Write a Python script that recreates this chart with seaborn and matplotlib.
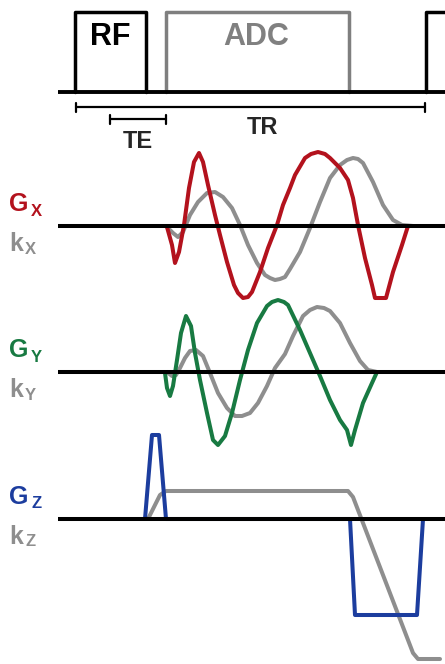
#!/usr/bin/env python3

import numpy as np
import seaborn as sns
import matplotlib.pyplot as plt

# --- timing (horizontal position, px) -------------------------------------
rf_on, rf_off = 75, 146
adc_on, adc_off = 166, 349
next_rf = 426
te_span = (110, 166)
tr_span = (76, 425)

# --- gradient / k-space waveforms: time and amplitude (up = positive) ------
gx_t = [167, 172, 175, 179, 184, 189, 194, 199, 203, 208, 215, 220, 227, 234,
        238, 243, 248, 252, 260, 268, 277, 283, 290, 295, 305, 311, 318, 325,
        330, 340, 348, 353, 358, 365, 372, 375, 386, 393, 402, 408]
gx_amp = [-1, -19, -37, -26, 1, 38, 64, 73, 64, 41, 11, -9, -36, -59,
          -67, -72, -71, -66, -46, -22, 1, 21, 38, 51, 68, 72, 74, 72,
          68, 58, 46, 28, 1, -32, -59, -72, -72, -46, -19, 0]
kx_t = [167, 173, 178, 183, 190, 198, 207, 215, 223, 232, 240, 248, 257, 265,
        270, 275, 280, 285, 290, 300, 310, 320, 330, 340, 347, 353, 358, 363,
        373, 383, 393, 402, 413]
kx_amp = [-1, -7, -11, -6, 11, 24, 33, 34, 29, 18, 1, -19, -37, -49,
          -52, -54, -53, -51, -43, -26, -2, 24, 48, 61, 66, 68, 67, 63,
          44, 21, 6, 1, 0]

gy_t = [165, 167, 170, 173, 177, 181, 186, 191, 195, 200, 207, 213, 218, 225,
        232, 240, 248, 257, 267, 272, 278, 284, 288, 300, 310, 320, 330, 340,
        347, 351, 355, 363, 372, 377]
gy_amp = [-1, -16, -24, -14, 12, 39, 56, 46, 19, -8, -41, -68, -73, -64,
          -41, -8, 22, 49, 66, 70, 72, 70, 67, 42, 19, -4, -28, -48,
          -58, -73, -58, -31, -11, 0]
ky_t = [167, 172, 176, 180, 185, 190, 196, 203, 210, 218, 227, 235, 242, 250,
        258, 267, 275, 285, 293, 303, 310, 317, 324, 330, 340, 350, 360, 368, 377]
ky_amp = [0, -4, -3, 4, 14, 21, 22, 16, -1, -21, -36, -44, -44, -41,
          -31, -14, 4, 18, 36, 56, 62, 65, 64, 61, 49, 29, 11, 2, 0]

gz_t = [145, 152, 159, 166, 350, 355, 417, 423]
gz_amp = [0, 84, 84, 0, 0, -96, -96, 0]
kz_t = [148, 160, 166, 348, 353, 413, 418, 440]
kz_amp = [0, 24, 28, 28, 22, -134, -140, -140]

red, green, blue = '#b3121d', '#187a42', '#1c3d9e'
gray, black = '#8e8e8e', '#000000'

# rows: baseline (px from top) and colours
rows = [
    ('X', 226, red, gx_t, gx_amp, kx_t, kx_amp),
    ('Y', 372, green, gy_t, gy_amp, ky_t, ky_amp),
    ('Z', 519, blue, gz_t, gz_amp, kz_t, kz_amp),
]

sns.set_style('white')
plt.rcParams['font.family'] = ['Liberation Sans', 'DejaVu Sans']

fig = plt.figure(figsize=(4.45, 6.64), dpi=100)
ax = fig.add_axes([0, 0, 1, 1])
ax.set_xlim(0, 445)
ax.set_ylim(664, 0)
ax.axis('off')

line_kw = dict(sort=False, estimator=None, ax=ax,
               solid_joinstyle='round', solid_capstyle='round')

# --- RF / ADC row ---------------------------------------------------------
top_base, top_high = 92, 12
box_lw = 2.5
sns.lineplot(x=[rf_on, rf_on, rf_off, rf_off], y=[top_base, top_high, top_high, top_base],
             color=black, lw=box_lw, **line_kw)
sns.lineplot(x=[adc_on, adc_on, adc_off, adc_off], y=[top_base, top_high, top_high, top_base],
             color='#7f7f7f', lw=box_lw, **line_kw)
sns.lineplot(x=[next_rf, next_rf, 450], y=[top_base, top_high, top_high],
             color=black, lw=box_lw, **line_kw)
ax.plot([58, 445], [top_base, top_base], color=black, lw=2.8, solid_capstyle='butt')
ax.text((rf_on + rf_off) / 2, 37, 'RF', ha='center', va='center',
        fontsize=22, fontweight='bold', color=black)
ax.text(256, 37, 'ADC', ha='center', va='center',
        fontsize=22, fontweight='bold', color='#808080')

# brackets
for (a, b), yb in [(tr_span, 107), (te_span, 119)]:
    ax.plot([a, b], [yb, yb], color=black, lw=1.6)
    for xe in (a, b):
        ax.plot([xe, xe], [yb - 4.5, yb + 4.5], color=black, lw=1.6)
ax.text(262, 127, 'TR', ha='center', va='center', fontsize=17, fontweight='bold')
ax.text(137.5, 141, 'TE', ha='center', va='center', fontsize=17, fontweight='bold')

# --- gradient rows ----------------------------------------------------------
for axis_name, base, col, gt, ga, kt, ka in rows:
    sns.lineplot(x=kt, y=base - np.asarray(ka), color=gray, lw=2.9, **line_kw)
    sns.lineplot(x=gt, y=base - np.asarray(ga), color=col, lw=2.9, **line_kw)
    ax.plot([58, 445], [base, base], color=black, lw=2.9, solid_capstyle='butt')

    ax.text(9, base - 22, 'G', ha='left', va='center', fontsize=18,
            fontweight='bold', color=col)
    ax.text(31, base - 15, axis_name, ha='left', va='center', fontsize=12,
            fontweight='bold', color=col)
    ax.text(9, base + 18, 'k', ha='left', va='center', fontsize=18,
            fontweight='bold', color=gray)
    ax.text(25, base + 23, axis_name, ha='left', va='center', fontsize=12,
            fontweight='bold', color=gray)

fig.savefig('out.png', dpi=100)
